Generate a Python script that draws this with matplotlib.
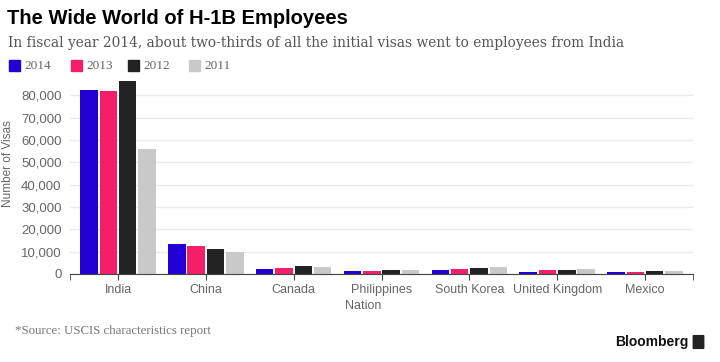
import numpy as np
import matplotlib
matplotlib.use("Agg")
import matplotlib.pyplot as plt
from matplotlib.patches import Rectangle, FancyBboxPatch

nations = ["India", "China", "Canada", "Philippines", "South Korea", "United Kingdom", "Mexico"]
years = ["2014", "2013", "2012", "2011"]
v2014 = [82200, 13600, 2300, 1300, 1800, 1000, 1000]
v2013 = [81800, 12500, 2800, 1500, 2200, 1600, 1000]
v2012 = [86400, 11300, 3400, 1800, 2700, 1800, 1300]
v2011 = [56000, 10000, 3300, 1800, 3100, 2400, 1300]
colors = ["#2200d4", "#f41f6b", "#222222", "#c9c9c9"]

SANS = ["Liberation Sans", "DejaVu Sans"]
SERIF = ["Liberation Serif", "DejaVu Serif"]

fig = plt.figure(figsize=(7.2, 3.62), dpi=100)
ax = fig.add_axes([70 / 720, 1 - 274 / 362, 623 / 720, 194.5 / 362])

x = np.arange(len(nations))
offsets = [-0.33, -0.11, 0.11, 0.33]
for vals, off, c in zip([v2014, v2013, v2012, v2011], offsets, colors):
    ax.bar(x + off, vals, width=0.2, color=c, zorder=3)

ax.set_xlim(-0.547, len(nations) - 1 + 0.547)
ax.set_ylim(0, 87000)
ax.set_yticks(np.arange(0, 80001, 10000))
ax.set_yticklabels([f"{v:,}" for v in range(0, 80001, 10000)], family=SANS, fontsize=9.5, color="#666666")
ax.set_xticks(x)
ax.set_xticklabels(nations, family=SANS, fontsize=9, color="#666666")
ax.set_xticks([-0.547, len(nations) - 1 + 0.547], minor=True)
ax.tick_params(axis="x", which="both", length=4, color="#444444", pad=3)
ax.tick_params(axis="y", length=0, pad=6)
ax.grid(axis="y", color="#ebebeb", lw=1, zorder=0)
for s in ["top", "right", "left"]:
    ax.spines[s].set_visible(False)
ax.spines["bottom"].set_color("#444444")
ax.spines["bottom"].set_zorder(4)
ax.set_ylabel("Number of Visas", family=SANS, fontsize=8.5, color="#666666", labelpad=2)
ax.yaxis.set_label_coords(-0.09, 0.57)

fig.text(363 / 720, 1 - 306 / 362, "Nation", family=SANS, fontsize=9, color="#666666", ha="center", va="center")

fig.text(7 / 720, 1 - 19 / 362, "The Wide World of H-1B Employees", family=SANS, fontsize=14.5,
         fontweight="bold", color="#000000", va="center")
fig.text(8 / 720, 1 - 43 / 362, "In fiscal year 2014, about two-thirds of all the initial visas went to employees from India",
         family=["DejaVu Serif"], fontsize=9.9, color="#555555", va="center")

leg_x = [9, 71, 128, 189]
for lx, yr, c in zip(leg_x, years, colors):
    fig.patches.append(Rectangle((lx / 720, 1 - 71 / 362), 11 / 720, 11 / 362, transform=fig.transFigure,
                                 color=c))
    fig.text((lx + 15) / 720, 1 - 66 / 362, yr, family=SERIF, fontsize=9.5, color="#666666", va="center")

fig.text(15 / 720, 1 - 331 / 362, "*Source: USCIS characteristics report", family=SERIF, fontsize=9.3,
         color="#777777", va="center")
fig.text(689 / 720, 1 - 342 / 362, "Bloomberg", family=SANS, fontsize=10, fontweight="bold",
         color="#111111", va="center", ha="right")
fig.patches.append(FancyBboxPatch((694 / 720, 1 - 348 / 362), 9 / 720, 12 / 362, boxstyle="round,pad=0.001",
                                  transform=fig.transFigure, color="#222222"))

fig.savefig("out.png", dpi=100)
